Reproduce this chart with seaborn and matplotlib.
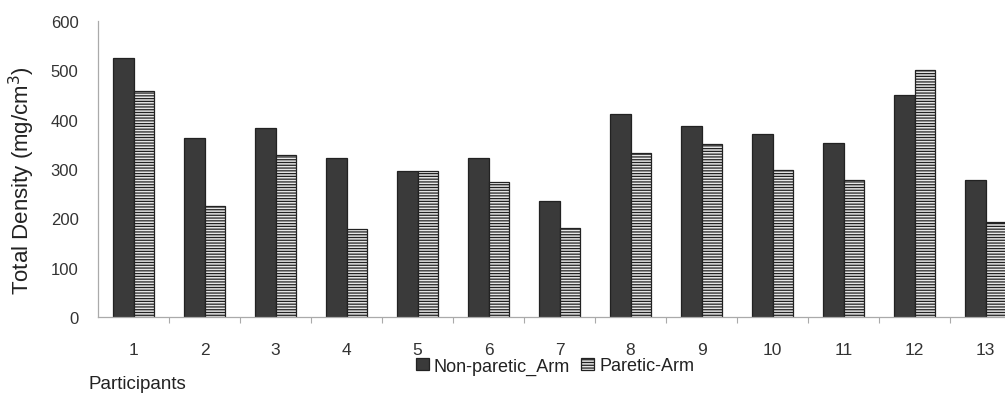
import pandas as pd
import numpy as np
import seaborn as sns
import matplotlib.pyplot as plt

participants = [str(i) for i in range(1, 14)]
non_paretic = [524, 363, 383, 322, 296, 322, 236, 412, 388, 370, 353, 449, 278]
paretic = [459, 224, 328, 179, 296, 273, 181, 333, 350, 298, 278, 500, 192]
series_names = ['Non-paretic_Arm', 'Paretic-Arm']

df = pd.DataFrame({
    'Participant': participants * 2,
    'Density': non_paretic + paretic,
    'Arm': [series_names[0]] * 13 + [series_names[1]] * 13,
})

sns.set_style('white')
plt.rcParams['font.family'] = ['Liberation Sans', 'DejaVu Sans']
plt.rcParams['hatch.color'] = '#444444'
plt.rcParams['hatch.linewidth'] = 0.9

fig = plt.figure(figsize=(10.05, 4.06), dpi=100)
# axes extends a little past the right edge, like the cropped original
ax = fig.add_axes([98 / 1005, 88 / 406, 923 / 1005, 296 / 406])

sns.barplot(data=df, x='Participant', y='Density', hue='Arm',
            palette=['#3a3a3a', '#e6e6e6'], width=0.57, saturation=1,
            edgecolor='#222222', linewidth=0.9, legend=False, ax=ax)

for bar in ax.containers[1]:
    bar.set_hatch('------')

ax.set_xlim(-0.5, 12.5)
ax.set_ylim(0, 600)
ax.set_yticks(range(0, 601, 100))
# small marks between the participant groups
ax.set_xticks(np.arange(0.5, 12, 1), minor=True)
ax.set_xlabel('')
ax.set_ylabel('')
ax.tick_params(axis='y', labelsize=12, colors='#333333', length=4, width=0.8, color='#aaaaaa', pad=10)
ax.tick_params(axis='x', which='major', labelsize=12.5, colors='#333333', length=0, pad=18)
ax.tick_params(axis='x', which='minor', bottom=True, length=4, width=0.8, color='#aaaaaa')

for s in ['top', 'right']:
    ax.spines[s].set_visible(False)
for s in ['left', 'bottom']:
    ax.spines[s].set_color('#aaaaaa')
    ax.spines[s].set_linewidth(0.9)

fig.text(22 / 1005, 1 - 181 / 406, 'Total Density (mg/cm$^3$)', fontsize=16,
         color='#222222', rotation=90, ha='center', va='center')
fig.text(88 / 1005, 1 - 385 / 406, 'Participants', fontsize=13.5, color='#222222', va='center')

handles = [ax.containers[0][0], ax.containers[1][0]]
fig.legend(handles, series_names, loc='center', bbox_to_anchor=(555 / 1005, 1 - 367 / 406),
           ncol=2, frameon=False, fontsize=13, handlelength=0.7, handleheight=0.7,
           handletextpad=0.3, columnspacing=0.6, labelcolor='#222222')

fig.savefig('out.png', dpi=100)
